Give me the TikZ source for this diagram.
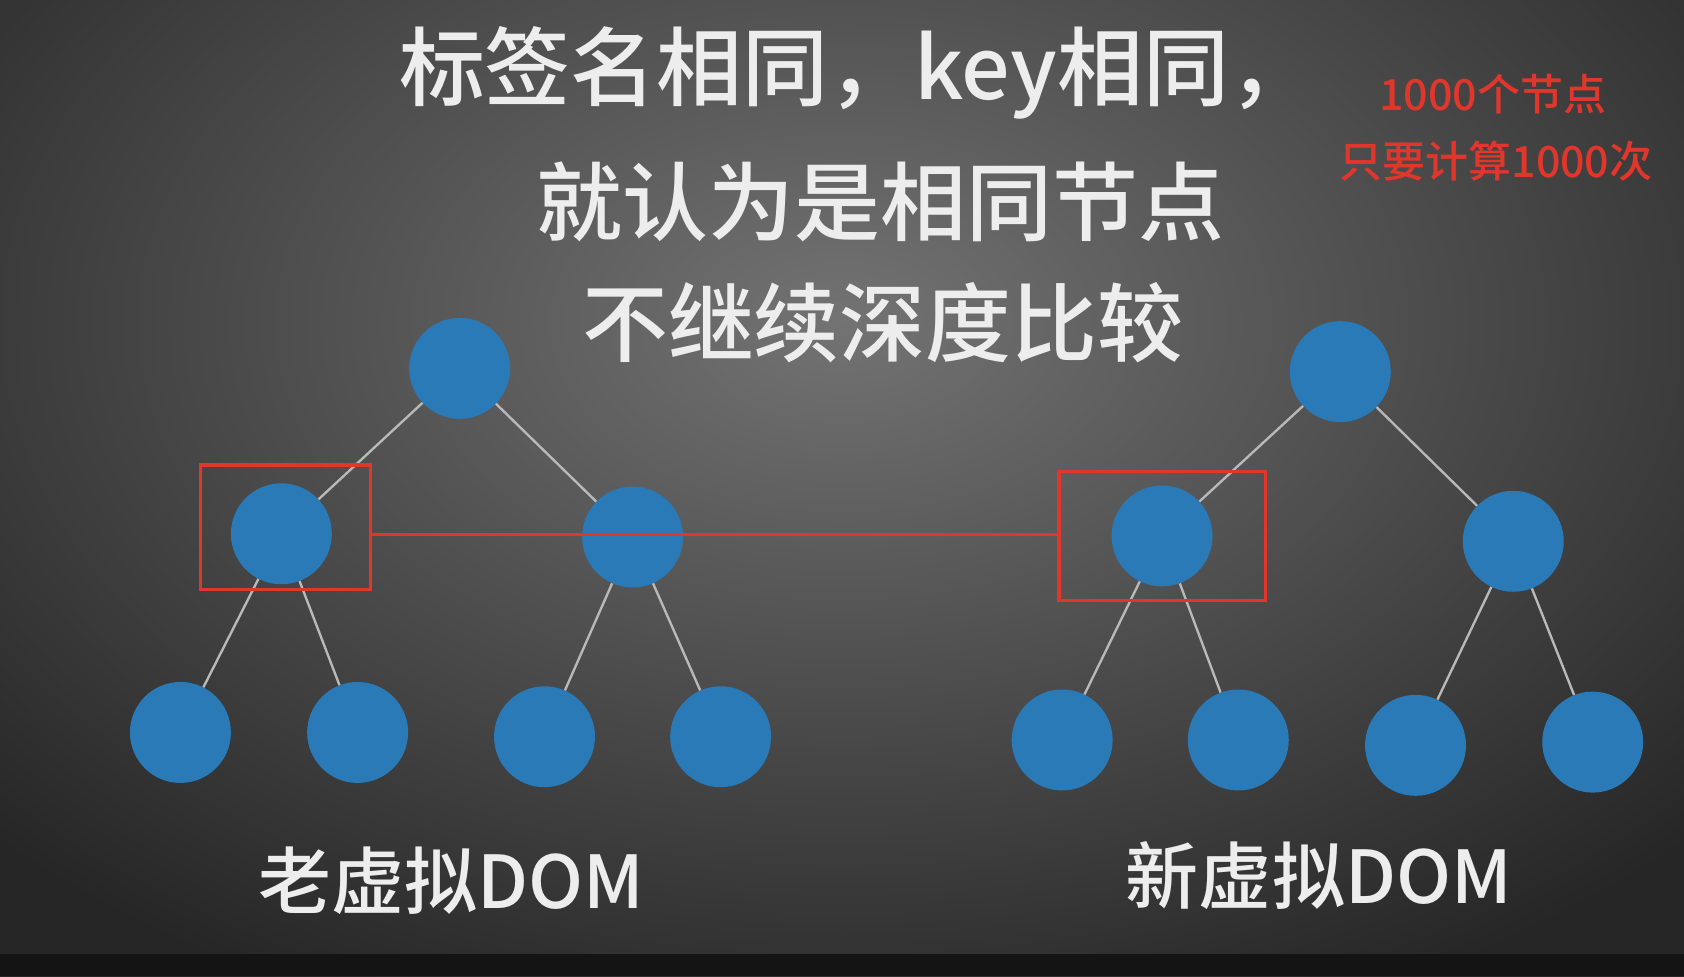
\documentclass[tikz,border=0pt]{standalone}
\usepackage{fontspec}
\setmainfont{Noto Sans CJK SC}
\newfontfamily\midfont{Noto Sans CJK SC Medium}
\begin{document}
\begin{tikzpicture}[x=1pt,y=-1pt,
  dot/.style={circle,fill=nodeblue,minimum size=94pt,inner sep=0pt},
  edge/.style={draw=gray!55!white,line width=2.2pt},
  hl/.style={draw=hlred,line width=3pt}]
\definecolor{nodeblue}{HTML}{2A7AB8}
\definecolor{hlred}{HTML}{E0362C}
\definecolor{txtc}{HTML}{EDEDED}
\useasboundingbox (0,0) rectangle (1568,909);
\shade[inner color=black!55,outer color=black!85] (-300,-400) rectangle (1868,1000);
\fill[black!92] (0,888) rectangle (1568,909);
\node[text=txtc,font=\fontsize{80}{84}\selectfont\midfont] (t1) at (798,68) {标签名相同，key相同，};
\node[text=txtc,font=\fontsize{80}{84}\selectfont\midfont] (t2) at (820,188) {就认为是相同节点};
\node[text=txtc,font=\fontsize{80}{84}\selectfont\midfont] (t3) at (822,300) {不继续深度比较};
\node[text=hlred,font=\fontsize{40}{44}\selectfont\midfont] (r1) at (1390,88) {1000个节点};
\node[text=hlred,font=\fontsize{40}{44}\selectfont\midfont] (r2) at (1393,150) {只要计算1000次};
\node[dot] (a) at (428,343) {};
\node[dot] (a1) at (262,497) {};
\node[dot] (a2) at (589,500) {};
\node[dot] (a11) at (168,682) {};
\node[dot] (a12) at (333,682) {};
\node[dot] (a21) at (507,686) {};
\node[dot] (a22) at (671,686) {};
\node[dot] (b) at (1248,346) {};
\node[dot] (b1) at (1082,499) {};
\node[dot] (b2) at (1409,504) {};
\node[dot] (b11) at (989,689) {};
\node[dot] (b12) at (1153,689) {};
\node[dot] (b21) at (1318,694) {};
\node[dot] (b22) at (1483,691) {};
\foreach \p/\c in {a/a1,a/a2,a1/a11,a1/a12,a2/a21,a2/a22,b/b1,b/b2,b1/b11,b1/b12,b2/b21,b2/b22}
  \draw[edge] (\p) -- (\c);
\node[hl,minimum width=158pt,minimum height=116pt,inner sep=0pt] (box1) at (266,491) {};
\node[hl,minimum width=192pt,minimum height=120pt,inner sep=0pt] (box2) at (1082,499) {};
\coordinate (la) at (box1.east |- 0,498);
\coordinate (lb) at (box2.west |- 0,498);
\draw[hl] (la) -- (lb);
\node[text=txtc,font=\fontsize{68}{72}\selectfont\midfont] (l1) at (420,820) {老虚拟DOM};
\node[text=txtc,font=\fontsize{68}{72}\selectfont\midfont] (l2) at (1228,815) {新虚拟DOM};
\end{tikzpicture}
\end{document}
